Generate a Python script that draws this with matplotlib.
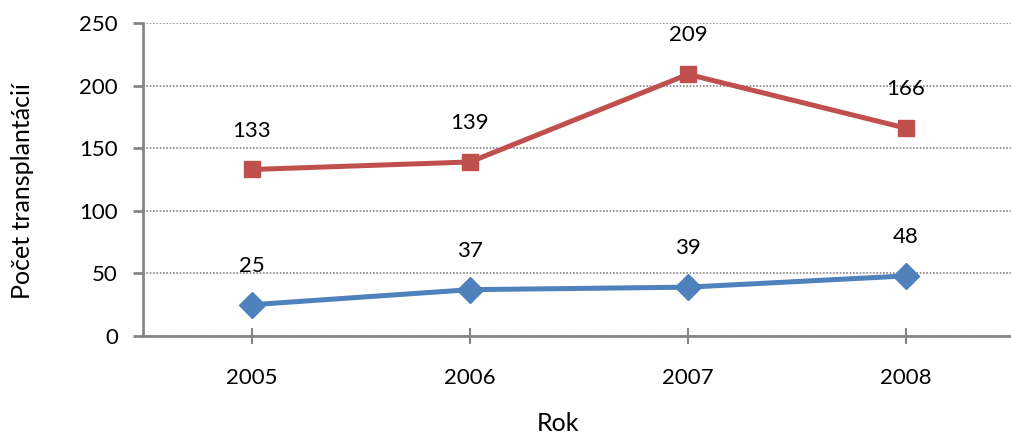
import matplotlib
matplotlib.use("Agg")
import matplotlib.pyplot as plt
import numpy as np

plt.rcParams['font.family'] = ['Lato', 'DejaVu Sans']

years = ['2005', '2006', '2007', '2008']
red_vals = [133, 139, 209, 166]
blue_vals = [25, 37, 39, 48]

red = '#C0504D'
blue = '#4F81BD'
grey = '#868686'

fig = plt.figure(figsize=(10.11, 4.36), dpi=100)
W, H = 1011., 436.
ax = fig.add_axes([143/W, 1-336/H, 872/W, (336-23)/H])

xs = np.arange(len(years))
ax.plot(xs, blue_vals, color=blue, lw=3.6, marker='D', ms=13, zorder=3)
ax.plot(xs, red_vals, color=red, lw=3.6, marker='s', ms=12, zorder=3)

for x, v in zip(xs, blue_vals):
    ax.annotate(str(v), (x, v), xytext=(0, 28), textcoords='offset points',
                ha='center', va='center', fontsize=16)
for x, v in zip(xs, red_vals):
    ax.annotate(str(v), (x, v), xytext=(0, 28), textcoords='offset points',
                ha='center', va='center', fontsize=16)

ax.set_xlim(-0.5, 3.5)
ax.set_ylim(0, 250)
ax.set_yticks(np.arange(0, 251, 50))
ax.set_xticks(xs)
ax.set_xticklabels(years)
ax.yaxis.grid(True, linestyle=(0, (1, 1)), color=grey, lw=1.2)
ax.set_axisbelow(True)

for s in ['top', 'right']:
    ax.spines[s].set_visible(False)
for s in ['left', 'bottom']:
    ax.spines[s].set_color(grey)
    ax.spines[s].set_linewidth(2)

ax.tick_params(axis='y', direction='out', length=7, width=2, color=grey,
               labelsize=16, pad=11)
ax.tick_params(axis='x', direction='inout', length=12, width=1.5, color=grey,
               labelsize=16, pad=17)

ax.set_xlabel('Rok', fontsize=18, va='center')
ax.set_ylabel('Počet transplantácií', fontsize=18, va='center')
ax.xaxis.set_label_coords((558-143)/872, (336-423)/313)
ax.yaxis.set_label_coords((23-143)/872, (336-191)/313)

fig.savefig('out.png', dpi=100)
